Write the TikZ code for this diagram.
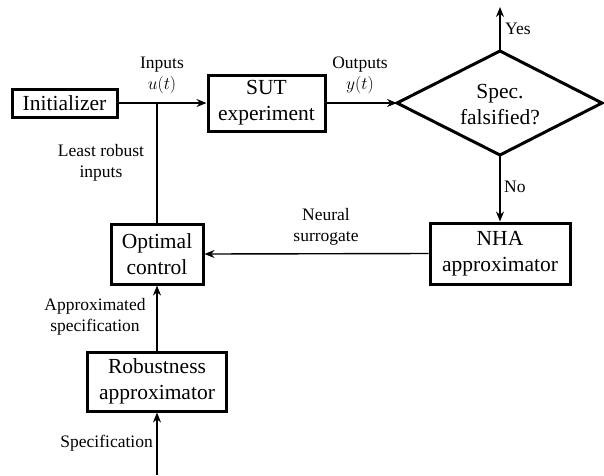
\RequirePackage{fix-cm}
\documentclass[tikz,border=0pt]{standalone}
\usepackage{fontspec}
\setmainfont{Liberation Serif}
\usetikzlibrary{arrows.meta}
\begin{document}
\begin{tikzpicture}[x=1pt,y=-1pt,
  blk/.style={draw,line width=3pt,inner sep=0pt,align=center,font=\fontsize{21.5}{26}\selectfont},
  lbl/.style={align=center,inner sep=0pt,font=\fontsize{17.5}{21}\selectfont},
  conn/.style={line width=1.4pt},
  arr/.style={conn,-{Stealth[length=10pt,width=8pt]}}]
\useasboundingbox (0,0) rectangle (604,475);
\node[blk,minimum width=105pt,minimum height=28pt] (init) at (64.5,103) {Initializer};
\node[blk,minimum width=117pt,minimum height=56pt] (sut) at (266.5,103) {SUT\\experiment};
\node[align=center,inner sep=0pt,font=\fontsize{21.5}{26}\selectfont] (dec) at (500,105) {Spec.\\falsified?};
\coordinate (dl) at (397,103);
\coordinate (dt) at (500,51);
\coordinate (dr) at (602,103);
\coordinate (db) at (500,155);
\draw[line width=3pt,line join=miter] (dl) -- (dt) -- (dr) -- (db) -- cycle;
\coordinate (yesend) at (500,7);
\node[blk,minimum width=140pt,minimum height=61pt] (nha) at (500,253.5) {NHA\\approximator};
\node[blk,minimum width=92pt,minimum height=60pt] (opt) at (157,254) {Optimal\\control};
\node[blk,minimum width=139pt,minimum height=59pt] (rob) at (157,381.5) {Robustness\\approximator};
\coordinate (junc) at (157,103);
\coordinate (specstart) at (157,475);
% connectors
\draw[arr] (init.east) -- (sut.west);
\draw[conn] (opt.north) -- (junc);
\draw[arr] (sut.east) -- (dl);
\draw[arr] (dt) -- (yesend);
\draw[arr] (db) -- (nha.north);
\draw[arr] (nha.west) -- (opt.east);
\draw[arr] (rob.north) -- (opt.south);
\draw[arr] (specstart) -- (rob.south);
% labels
\node[lbl] (linputs) at (162,75) {Inputs\\$u(t)$};
\node[lbl] (loutputs) at (360,75) {Outputs\\$y(t)$};
\node[lbl,anchor=west] (lyes) at (505,29) {Yes};
\node[lbl,anchor=west] (lno) at (504,187) {No};
\node[lbl] (lneural) at (326,227) {Neural\\surrogate};
\node[lbl] (lleast) at (101,163) {Least robust\\inputs};
\node[lbl] (lappr) at (95,317) {Approximated\\specification};
\node[lbl,anchor=east] (lspec) at (153,443) {Specification};
\end{tikzpicture}
\end{document}
